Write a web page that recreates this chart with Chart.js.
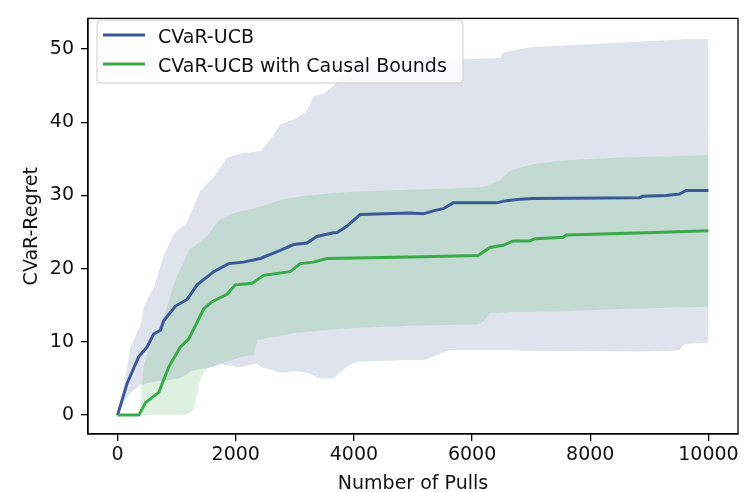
<!DOCTYPE html>
<html>
<head>
<meta charset="utf-8">
<script src="https://cdn.jsdelivr.net/npm/chart.js@4.4.0/dist/chart.umd.min.js"></script>
<style>
  html, body { margin: 0; padding: 0; background: #fff; }
  #wrap { width: 751px; height: 492px; }
</style>
</head>
<body>
<div id="wrap"><canvas id="regret" width="751" height="492"></canvas></div>
<script>
// series names
const seriesNames = ["CVaR-UCB", "CVaR-UCB with Causal Bounds"];

// axis ticks
const xTicks = [0, 2000, 4000, 6000, 8000, 10000];
const yTicks = [0, 10, 20, 30, 40, 50];

// CVaR-UCB mean regret
const ucbX = [0, 164, 360, 500, 614, 726, 782, 980, 1177, 1346, 1627, 1880, 2133, 2416, 2753, 2978, 3204, 3373, 3654, 3711, 3880, 4105, 4949, 5174, 5343, 5512, 5681, 6413, 6582, 6807, 7032, 8834, 8891, 9285, 9510, 9623, 10000];
const ucbMean = [0, 4.4, 8.0, 9.3, 11.1, 11.6, 12.9, 14.9, 15.8, 17.8, 19.6, 20.7, 20.9, 21.4, 22.5, 23.3, 23.5, 24.4, 24.9, 24.9, 25.8, 27.4, 27.6, 27.5, 27.9, 28.2, 29.0, 29.0, 29.3, 29.5, 29.6, 29.7, 29.9, 30.0, 30.2, 30.7, 30.7];

// CVaR-UCB band
const ucbBandX = [0, 110, 220, 390, 450, 614, 782, 951, 1008, 1177, 1233, 1290, 1402, 1515, 1627, 1740, 1853, 2022, 2133, 2360, 2416, 2600, 2753, 2978, 3035, 3204, 3316, 3373, 3486, 3654, 3880, 4049, 4400, 4800, 5174, 5343, 5625, 5738, 6470, 6526, 6751, 6807, 7032, 8834, 9397, 9510, 9595, 10000];
const ucbUpper = [0, 4.0, 9.3, 12.4, 15.0, 17.4, 21.8, 24.7, 25.2, 26.3, 27.5, 28.5, 30.7, 31.6, 32.5, 33.8, 35.2, 35.6, 35.8, 36.0, 36.1, 37.8, 39.7, 40.4, 40.6, 41.6, 43.5, 43.7, 43.9, 45.0, 46.8, 47.6, 48.2, 48.5, 48.6, 48.6, 48.6, 48.6, 48.8, 49.5, 49.9, 50.0, 50.3, 51.0, 51.3, 51.3, 51.4, 51.4];
const ucbLower = [0, 1.7, 3.1, 4.1, 4.2, 4.6, 4.7, 4.9, 4.9, 5.6, 6.0, 6.1, 6.3, 6.4, 6.6, 6.9, 6.8, 6.6, 6.6, 7.1, 6.6, 6.2, 5.8, 6.0, 6.0, 5.8, 5.4, 5.1, 5.0, 5.0, 6.6, 7.3, 7.4, 7.5, 7.5, 8.0, 8.9, 8.9, 8.9, 8.9, 8.9, 8.8, 8.8, 8.7, 8.8, 8.9, 9.7, 9.9];

// CVaR-UCB with Causal Bounds mean regret
const causalX = [0, 360, 473, 698, 867, 1064, 1205, 1458, 1599, 1853, 1993, 2275, 2472, 2922, 3091, 3316, 3542, 4949, 6103, 6301, 6526, 6695, 6976, 7061, 7540, 7596, 8947, 10000];
const causalMean = [0, 0, 1.7, 3.1, 6.6, 9.3, 10.4, 14.5, 15.5, 16.5, 17.8, 18.0, 19.1, 19.6, 20.7, 20.9, 21.4, 21.6, 21.8, 22.9, 23.2, 23.8, 23.8, 24.1, 24.3, 24.6, 24.9, 25.2];

// CVaR-UCB with Causal Bounds band
const causalBandX = [0, 380, 420, 450, 560, 700, 800, 950, 1010, 1100, 1205, 1230, 1290, 1402, 1460, 1515, 1700, 1800, 1965, 2100, 2300, 2360, 2470, 2500, 2810, 3035, 3091, 3767, 4000, 4949, 6103, 6188, 6301, 6470, 6639, 7032, 7540, 8500, 10000];
const causalUpper = [0, 0, 5.0, 7.0, 9.5, 12.0, 13.8, 17.8, 19.1, 20.5, 22.5, 22.8, 23.0, 23.8, 24.1, 24.5, 26.5, 27.0, 27.6, 27.9, 28.2, 28.4, 28.6, 28.7, 29.5, 29.8, 29.9, 30.4, 30.5, 30.8, 31.1, 31.2, 31.5, 32.1, 33.4, 34.3, 34.8, 35.2, 35.5];
const causalLower = [0, 0, 0, 0, 0, 0, 0, 0, 0, 0, 0.2, 0.4, 0.8, 4.9, 5.8, 6.4, 7.0, 7.2, 7.6, 8.0, 8.2, 10.2, 10.4, 10.5, 10.9, 11.3, 11.3, 11.8, 11.9, 12.2, 12.4, 12.8, 14.0, 14.0, 14.1, 14.1, 14.2, 14.5, 14.8];

const blue = "#3b5998";
const green = "#3aaa48";
const FONT = "'DejaVu Sans', sans-serif";
const TEXT = "#111";

const pts = (xs, ys) => xs.map((x, i) => ({ x: x, y: ys[i] }));

// top/right spines
const framePlugin = {
  id: "frame",
  afterDraw(chart) {
    const a = chart.chartArea;
    const c = chart.ctx;
    c.save();
    c.strokeStyle = "#000";
    c.lineWidth = 1.3;
    c.strokeRect(a.left, a.top, a.right - a.left, a.bottom - a.top);
    c.restore();
  },
};

// matplotlib-style legend box inside the axes
const legendBox = {
  id: "legendBox",
  afterDraw(chart) {
    const c = chart.ctx;
    const x = 97, y = 20, w = 366, h = 63, r = 4;
    c.save();
    c.beginPath();
    c.roundRect(x, y, w, h, r);
    c.fillStyle = "rgba(255,255,255,0.8)";
    c.fill();
    c.strokeStyle = "#cccccc";
    c.lineWidth = 1;
    c.stroke();
    const colors = [blue, green];
    seriesNames.forEach((name, i) => {
      const ly = 35 + i * 29;
      c.beginPath();
      c.moveTo(103, ly);
      c.lineTo(145, ly);
      c.strokeStyle = colors[i];
      c.lineWidth = 3;
      c.stroke();
      c.fillStyle = TEXT;
      c.font = "19px " + FONT;
      c.textBaseline = "alphabetic";
      c.fillText(name, 158, ly + 7.7);
    });
    c.restore();
  },
};

const ctx = document.getElementById("regret").getContext("2d");
const chart = new Chart(ctx, {
  type: "line",
  data: {
    datasets: [
      { data: pts(ucbBandX, ucbLower), borderWidth: 0, pointRadius: 0, fill: false, order: 3 },
      { data: pts(ucbBandX, ucbUpper), borderWidth: 0, pointRadius: 0, fill: "-1", backgroundColor: "rgba(59,89,152,0.17)", order: 3 },
      { data: pts(causalBandX, causalLower), borderWidth: 0, pointRadius: 0, fill: false, order: 2 },
      { data: pts(causalBandX, causalUpper), borderWidth: 0, pointRadius: 0, fill: "-1", backgroundColor: "rgba(58,170,72,0.17)", order: 2 },
      { label: seriesNames[0], data: pts(ucbX, ucbMean), borderColor: blue, borderWidth: 3, pointRadius: 0, fill: false, order: 1 },
      { label: seriesNames[1], data: pts(causalX, causalMean), borderColor: green, borderWidth: 3, pointRadius: 0, fill: false, order: 0 },
    ],
  },
  options: {
    responsive: false,
    animation: false,
    devicePixelRatio: 1,
    layout: { padding: { left: 21, right: 13, top: 8, bottom: 0 } },
    plugins: { legend: { display: false }, tooltip: { enabled: false } },
    elements: { line: { tension: 0 } },
    scales: {
      x: {
        type: "linear",
        min: -500,
        max: 10500,
        afterBuildTicks: (s) => { s.ticks = xTicks.map((v) => ({ value: v })); },
        afterFit: (s) => { s.height = 58; },
        ticks: { color: TEXT, font: { family: FONT, size: 19 }, padding: 3, maxRotation: 0, autoSkip: false, callback: (v) => String(v) },
        grid: { drawOnChartArea: false, tickLength: 7, color: "#000", lineWidth: 1.3 },
        border: { color: "#000", width: 1.3 },
        title: { display: true, text: "Number of Pulls", color: TEXT, font: { family: FONT, size: 19 }, padding: { top: 0, bottom: -3 } },
      },
      y: {
        type: "linear",
        min: -2.58,
        max: 54.2,
        afterBuildTicks: (s) => { s.ticks = yTicks.map((v) => ({ value: v })); },
        afterFit: (s) => { s.width = 67; },
        ticks: { color: TEXT, font: { family: FONT, size: 19 }, padding: 7, callback: (v) => String(v) },
        grid: { drawOnChartArea: false, tickLength: 7, color: "#000", lineWidth: 1.3 },
        border: { color: "#000", width: 1.3 },
        title: { display: true, text: "CVaR-Regret", color: TEXT, font: { family: FONT, size: 19 }, padding: { top: 0, bottom: 0 } },
      },
    },
  },
  plugins: [framePlugin, legendBox],
});
</script>
</body>
</html>
